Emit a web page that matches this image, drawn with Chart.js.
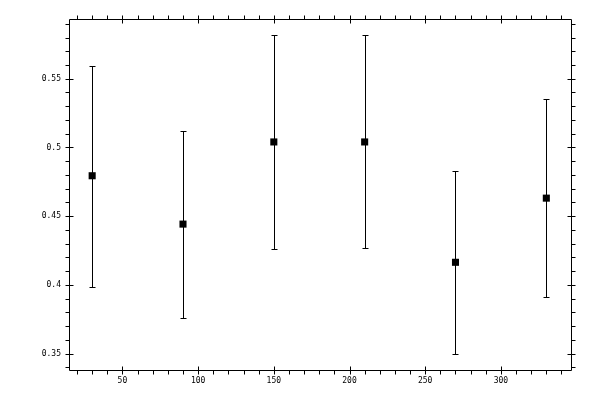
<html lang="en">
  <head>
    <meta charset="utf-8" />
    <title>Error bar chart</title>
    <style type="text/css">
      * {
        padding: 0;
        margin: 0;
      }
      body {
        background: #ffffff;
      }
      .wrapper {
        width: 600px;
        height: 400px;
        position: relative;
      }
    </style>
  </head>
  <body>
    <div class="wrapper">
      <canvas id="chart" width="600" height="400"></canvas>
    </div>
    <script src="https://cdn.jsdelivr.net/npm/chart.js@4/dist/chart.umd.min.js"></script>
    <script>
      // data
      const xValues = [30, 90, 150, 210, 270, 330];
      const yValues = [0.4794, 0.4442, 0.504, 0.504, 0.4164, 0.4631];
      const upperValues = [0.5595, 0.512, 0.5821, 0.5821, 0.4828, 0.5354];
      const lowerValues = [0.3982, 0.3755, 0.4261, 0.4266, 0.35, 0.3909];

      const xTicks = [50, 100, 150, 200, 250, 300];
      const yTicks = [0.35, 0.4, 0.45, 0.5, 0.55];
      const xTickLabels = ["50", "100", "150", "200", "250", "300"];
      const yTickLabels = ["0.35", "0.4", "0.45", "0.5", "0.55"];
      const xMinorStep = 10;
      const yMinorStep = 0.01;

      const points = xValues.map((x, i) => ({ x: x, y: yValues[i] }));
      const tickFont = { family: "DejaVu Sans Mono", size: 8 };

      // error bars, drawn under the squares
      const errorBars = {
        id: "errorBars",
        beforeDatasetsDraw(chart) {
          const { ctx, scales: { x, y } } = chart;
          ctx.save();
          ctx.strokeStyle = "#000";
          ctx.lineWidth = 1;
          xValues.forEach((v, i) => {
            const px = Math.round(x.getPixelForValue(v)) + 0.5;
            const top = Math.round(y.getPixelForValue(upperValues[i])) + 0.5;
            const bot = Math.round(y.getPixelForValue(lowerValues[i])) + 0.5;
            ctx.beginPath();
            ctx.moveTo(px, top);
            ctx.lineTo(px, bot);
            ctx.moveTo(px - 3, top);
            ctx.lineTo(px + 3, top);
            ctx.moveTo(px - 3, bot);
            ctx.lineTo(px + 3, bot);
            ctx.stroke();
          });
          ctx.restore();
        },
      };

      // frame with ticks on all four sides
      const frameTicks = {
        id: "frameTicks",
        afterDraw(chart) {
          const { ctx, chartArea: a, scales: { x, y } } = chart;
          const L = Math.round(a.left) + 0.5, R = Math.round(a.right) + 0.5;
          const T = Math.round(a.top) + 0.5, B = Math.round(a.bottom) + 0.5;
          ctx.save();
          ctx.strokeStyle = "#000";
          ctx.lineWidth = 1;
          ctx.beginPath();
          ctx.rect(L, T, R - L, B - T);
          // x minor + major
          for (let v = Math.ceil(x.min / xMinorStep) * xMinorStep; v <= x.max; v += xMinorStep) {
            const px = Math.round(x.getPixelForValue(v)) + 0.5;
            const major = xTicks.includes(Math.round(v));
            ctx.moveTo(px, B - (major ? 4 : 0));
            ctx.lineTo(px, B + 4);
            ctx.moveTo(px, T + (major ? 4 : 0));
            ctx.lineTo(px, T - 4);
          }
          // y minor + major
          for (let k = Math.ceil(y.min / yMinorStep); k * yMinorStep <= y.max; k++) {
            const v = k * yMinorStep;
            const py = Math.round(y.getPixelForValue(v)) + 0.5;
            const major = yTicks.some((t) => Math.abs(t - v) < 1e-6);
            ctx.moveTo(L + (major ? 4 : 0), py);
            ctx.lineTo(L - 4, py);
            ctx.moveTo(R - (major ? 4 : 0), py);
            ctx.lineTo(R + 4, py);
          }
          ctx.stroke();
          ctx.restore();
        },
      };

      new Chart(document.getElementById("chart"), {
        type: "scatter",
        plugins: [errorBars, frameTicks],
        data: {
          datasets: [{
            data: points,
            pointStyle: "rect",
            pointRadius: 5,
            pointHoverRadius: 5,
            backgroundColor: "#000",
            borderWidth: 0,
          }],
        },
        options: {
          responsive: false,
          devicePixelRatio: 1,
          animation: false,
          layout: { padding: { top: 19, right: 29, left: 0, bottom: 0 } },
          plugins: {
            legend: { display: false },
            tooltip: { enabled: false },
          },
          scales: {
            x: {
              type: "linear",
              min: 14.7,
              max: 346.3,
              grid: { display: false, drawTicks: false },
              border: { display: false },
              afterBuildTicks: (s) => { s.ticks = xTicks.map((v) => ({ value: v })); },
              afterFit: (s) => { s.height = 30; },
              ticks: {
                color: "#000",
                font: tickFont,
                padding: 6,
                maxRotation: 0,
                callback: (v) => xTickLabels[xTicks.indexOf(v)],
              },
            },
            y: {
              type: "linear",
              min: 0.338,
              max: 0.5935,
              grid: { display: false, drawTicks: false },
              border: { display: false },
              afterBuildTicks: (s) => { s.ticks = yTicks.map((v) => ({ value: v })); },
              afterFit: (s) => { s.width = 69; },
              ticks: {
                color: "#000",
                font: tickFont,
                padding: 8,
                callback: (v) => yTickLabels[yTicks.findIndex((t) => Math.abs(t - v) < 1e-9)],
              },
            },
          },
        },
      });
    </script>
  </body>
</html>
